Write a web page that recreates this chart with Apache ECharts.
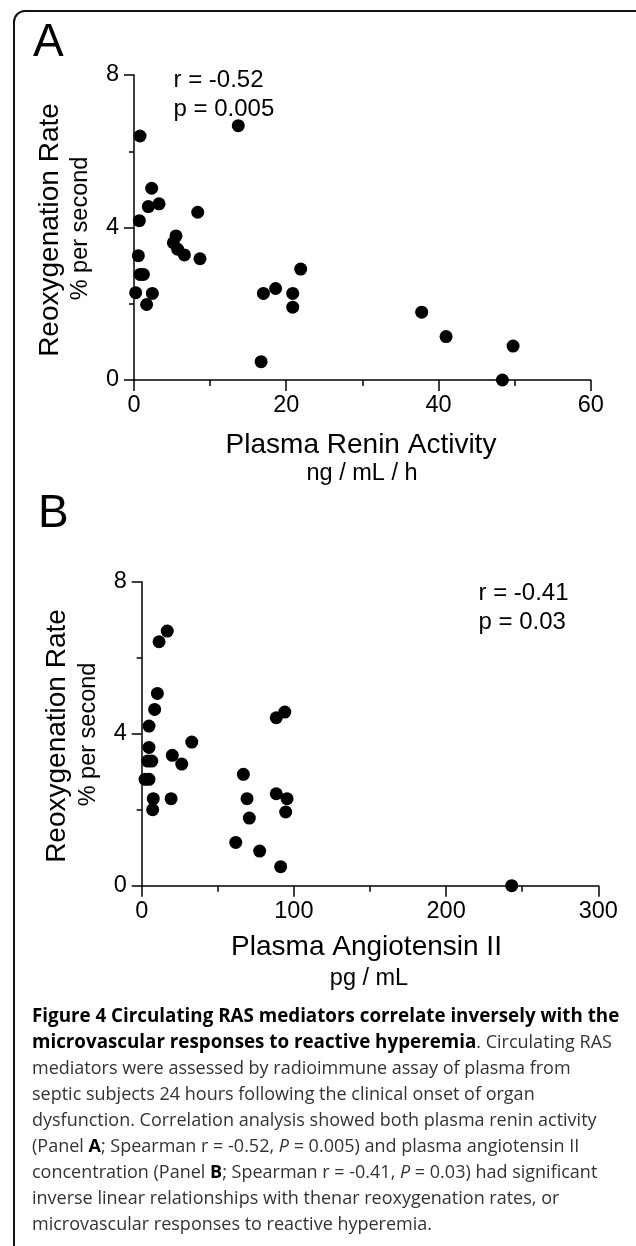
<!DOCTYPE html>
<html>
<head>
<meta charset="utf-8">
<script src="https://cdn.jsdelivr.net/npm/echarts@6/dist/echarts.min.js"></script>
<style>
  html, body { margin: 0; padding: 0; background: #fff; }
  #chart { width: 636px; height: 1246px; }
</style>
</head>
<body>
<div id="chart"></div>
<script>
// Panel A: plasma renin activity (ng/mL/h) vs reoxygenation rate (%/s)
const reninX = [0.79, 13.7, 2.32, 1.88, 3.29, 0.70, 8.37, 5.52, 5.17, 5.74, 6.62, 8.67, 0.57, 0.79,
  1.23, 0.22, 2.41, 1.66, 17.0, 18.6, 20.85, 20.85, 21.9, 16.7, 37.8, 41.0, 49.8, 48.4];
const reninY = [6.40, 6.67, 5.03, 4.55, 4.62, 4.18, 4.40, 3.78, 3.60, 3.43, 3.28, 3.18, 3.26, 2.77,
  2.77, 2.29, 2.27, 1.98, 2.27, 2.40, 2.27, 1.91, 2.91, 0.48, 1.78, 1.14, 0.89, 0.0];

// Panel B: plasma angiotensin II (pg/mL) vs reoxygenation rate (%/s)
const angX = [16.8, 11.4, 10.3, 8.5, 4.8, 4.8, 3.9, 6.6, 2.2, 4.8, 7.6, 7.2, 19.3, 20.1,
  26.3, 32.9, 66.8, 69.2, 70.7, 61.8, 77.5, 91.3, 88.4, 94.0, 88.4, 95.5, 94.6, 243.1];
const angY = [6.70, 6.42, 5.06, 4.64, 4.20, 3.64, 3.28, 3.28, 2.80, 2.80, 2.29, 2.00, 2.29, 3.43,
  3.20, 3.78, 2.93, 2.29, 1.78, 1.14, 0.91, 0.50, 4.42, 4.57, 2.42, 2.29, 1.94, 0.0];

const reninTicks = { min: 0, max: 60, interval: 20 };
const angTicks = { min: 0, max: 300, interval: 100 };
const rateTicks = { min: 0, max: 8, interval: 4 };

const captionLines = [
  '{h|Figure 4 Circulating RAS mediators correlate inversely with the}',
  '{h|microvascular responses to reactive hyperemia}. Circulating RAS',
  'mediators were assessed by radioimmune assay of plasma from',
  'septic subjects 24 hours following the clinical onset of organ',
  'dysfunction. Correlation analysis showed both plasma renin activity',
  '(Panel {b|A}; Spearman r = -0.52, {i|P} = 0.005) and plasma angiotensin II',
  'concentration (Panel {b|B}; Spearman r = -0.41, {i|P} = 0.03) had significant',
  'inverse linear relationships with thenar reoxygenation rates, or',
  'microvascular responses to reactive hyperemia.'
];

const FONT = 'Liberation Sans';
const CAP_FONT = 'Open Sans';
const INK = '#000';

function axisStyle(tickLen, minorLen) {
  return {
    axisLine: { lineStyle: { color: INK, width: 1.5 } },
    axisTick: { length: tickLen, lineStyle: { color: INK, width: 1.5 } },
    minorTick: { show: true, splitNumber: 2, length: minorLen, lineStyle: { color: INK, width: 1.5 } },
    splitLine: { show: false },
    minorSplitLine: { show: false }
  };
}

function xAxisOf(ticks, grid) {
  return Object.assign({
    type: 'value', gridIndex: grid,
    min: ticks.min, max: ticks.max, interval: ticks.interval,
    axisLabel: { color: INK, fontFamily: FONT, fontSize: 23.5, margin: 14 }
  }, axisStyle(11, 6));
}

function yAxisOf(grid) {
  return Object.assign({
    type: 'value', gridIndex: grid,
    min: rateTicks.min, max: rateTicks.max, interval: rateTicks.interval,
    axisLabel: { color: INK, fontFamily: FONT, fontSize: 23.5, margin: 15 }
  }, axisStyle(10, 5));
}

function pairs(xs, ys) {
  return xs.map((x, i) => [x, ys[i]]);
}

function txt(text, x, y, size, opts) {
  return Object.assign({
    type: 'text', x: x, y: y,
    style: Object.assign({
      text: text, fill: INK, fontFamily: FONT, fontSize: size,
      align: 'center', verticalAlign: 'middle'
    }, (opts && opts.style) || {})
  }, (opts && opts.el) || {});
}

const chart = echarts.init(document.getElementById('chart'), null, { renderer: 'canvas' });

chart.setOption({
  animation: false,
  backgroundColor: '#fff',
  grid: [
    { left: 134, top: 75, width: 456.7, height: 305 },
    { left: 141.7, top: 581.7, width: 456.6, height: 304 }
  ],
  xAxis: [xAxisOf(reninTicks, 0), xAxisOf(angTicks, 1)],
  yAxis: [yAxisOf(0), yAxisOf(1)],
  series: [
    {
      type: 'scatter', xAxisIndex: 0, yAxisIndex: 0,
      data: pairs(reninX, reninY), symbolSize: 13, clip: false,
      itemStyle: { color: INK, opacity: 1 }
    },
    {
      type: 'scatter', xAxisIndex: 1, yAxisIndex: 1,
      data: pairs(angX, angY), symbolSize: 13, clip: false,
      itemStyle: { color: INK, opacity: 1 }
    }
  ],
  graphic: [
    // figure frame: only the rounded top-left corner is inside the page
    {
      type: 'rect',
      shape: { x: 14, y: 11, width: 700, height: 1300, r: [11, 0, 0, 0] },
      style: { fill: 'none', stroke: '#111', lineWidth: 2 }
    },
    // panel A
    txt('A', 33, 43.5, 46, { style: { align: 'left' } }),
    txt('r = -0.52', 173.5, 80, 24, { style: { align: 'left' } }),
    txt('p = 0.005', 173.5, 109, 24, { style: { align: 'left' } }),
    txt('Plasma Renin Activity', 361, 445, 28),
    txt('ng / mL / h', 362, 473.5, 23.5),
    txt('Reoxygenation Rate', 50, 230, 28, { el: { rotation: Math.PI / 2 } }),
    txt('% per second', 81, 228.5, 23.5, { el: { rotation: Math.PI / 2 } }),
    // panel B
    txt('B', 38, 514, 46, { style: { align: 'left' } }),
    txt('r = -0.41', 478.5, 593, 24, { style: { align: 'left' } }),
    txt('p = 0.03', 478.5, 622, 24, { style: { align: 'left' } }),
    txt('Plasma Angiotensin II', 366.5, 947, 28),
    txt('pg / mL', 369, 979, 23.5),
    txt('Reoxygenation Rate', 57, 736, 28, { el: { rotation: Math.PI / 2 } }),
    txt('% per second', 88.5, 734.5, 23.5, { el: { rotation: Math.PI / 2 } }),
    // caption
    {
      type: 'text', x: 32, y: 1004,
      style: {
        text: captionLines.join('\n'),
        fill: '#333', fontFamily: CAP_FONT, fontSize: 18, lineHeight: 26,
        align: 'left', verticalAlign: 'top',
        rich: {
          h: { fontFamily: CAP_FONT, fontSize: 18.8, fontWeight: 'bold', fill: '#000', lineHeight: 26 },
          b: { fontFamily: CAP_FONT, fontSize: 18, fontWeight: 'bold', fill: '#000', lineHeight: 26 },
          i: { fontFamily: CAP_FONT, fontSize: 18, fontStyle: 'italic', fill: '#333', lineHeight: 26 }
        }
      }
    }
  ]
});
</script>
</body>
</html>
